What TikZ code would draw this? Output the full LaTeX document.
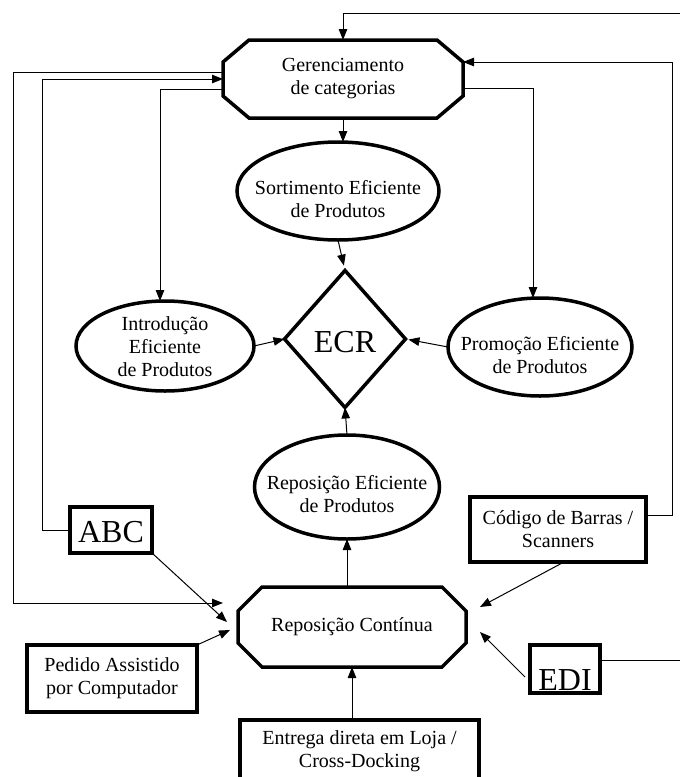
\documentclass[tikz,border=0pt]{standalone}
\usepackage{fontspec}
\setmainfont{Liberation Serif}
\usetikzlibrary{shapes.geometric,arrows.meta}
\newcommand{\drawoct}[3]{\draw[shapeline,line join=miter] ([xshift=#2]#1.north west) -- ([xshift=-#2]#1.north east) -- ([yshift=-#3]#1.north east) -- ([yshift=#3]#1.south east) -- ([xshift=-#2]#1.south east) -- ([xshift=#2]#1.south west) -- ([yshift=#3]#1.south west) -- ([yshift=-#3]#1.north west) -- cycle;}
\begin{document}
\begin{tikzpicture}[x=1pt,y=-1pt,
  shapeline/.style={line width=3.5pt},
  conn/.style={line width=1pt},
  arr/.style={conn,-{Triangle[length=11pt,width=8.5pt]}},
  ell/.style={ellipse,draw,shapeline,inner sep=0pt,outer sep=0pt},
  txt/.style={align=center,font=\fontsize{20}{23}\selectfont,inner sep=0pt},
  boxnode/.style={rectangle,draw,shapeline,inner sep=0pt,outer sep=0pt,align=center,font=\fontsize{20}{23}\selectfont},
  octnode/.style={rectangle,inner sep=0pt,outer sep=0pt,align=center,font=\fontsize{20}{23}\selectfont},
  big/.style={font=\fontsize{32}{36}\selectfont}
]
\useasboundingbox (0,0) rectangle (680,777);
\clip (0,0) rectangle (680,777);

% nodes
\node[octnode,minimum width=240pt,minimum height=78pt] (ger) at (343,79) {Gerenciamento\\de categorias};
\drawoct{ger}{26pt}{22pt}
\node[ell,minimum width=202pt,minimum height=98pt] (sort) at (338,191) {};
\node[txt] (sortt) at (338,199) {Sortimento Eficiente\\de Produtos};
\node[diamond,draw,shapeline,inner sep=0pt,outer sep=0pt,minimum width=121pt,minimum height=137pt,big,text height=26pt,text depth=0pt] (ecr) at (345,339) {ECR};
\node[ell,minimum width=178pt,minimum height=90pt] (intro) at (165,346) {};
\node[txt] (introt) at (165,347) {Introdução\\Eficiente\\de Produtos};
\node[ell,minimum width=184pt,minimum height=98pt] (promo) at (540,347) {};
\node[txt] (promot) at (540,355) {Promoção Eficiente\\de Produtos};
\node[ell,minimum width=185pt,minimum height=104pt] (repef) at (347,487) {};
\node[txt] (repeft) at (347,494) {Reposição Eficiente\\de Produtos};
\node[octnode,minimum width=228pt,minimum height=80pt] (repc) at (352,627) {Reposição Contínua};
\drawoct{repc}{24pt}{24pt}
\node[boxnode,big,minimum width=82pt,minimum height=46pt,text height=24pt,text depth=0pt] (abc) at (111,530) {ABC};
\node[boxnode,minimum width=176pt,minimum height=65pt] (cod) at (558,529.5) {Código de Barras /\\Scanners};
\node[boxnode,minimum width=170pt,minimum height=67pt] (ped) at (112,678.5) {Pedido Assistido\\por Computador};
\node[boxnode,big,minimum width=70pt,minimum height=48pt,text height=42pt,text depth=0pt] (edi) at (565,669) {EDI};
\node[boxnode,minimum width=239pt,minimum height=62pt,anchor=north] (ent) at (359.5,720) {Entrega direta em Loja /\\Cross-Docking};

% free ends and arrow tips
\coordinate (topR) at (680,13);
\coordinate (rR) at (672,62);
\coordinate (tipA) at (223,603);
\coordinate (tipB) at (227,622);
\coordinate (tipC) at (230,630);
\coordinate (tipD) at (480,607);
\coordinate (tipE) at (480,632);
\coordinate (rEdi) at (680,660);

% connectors
\draw[arr] (topR) -| (ger.north);
\draw[arr] ([yshift=14pt]cod.east) -| (rR) -- ([yshift=-22pt]ger.north east);
\draw[arr] ([yshift=7pt]ger.west) -| (13,603) -- (tipA);
\draw[arr] (abc.west) -| (42,79) -- (ger.west);
\draw[arr] ([yshift=-10pt]ger.west) -| ([xshift=-5pt]intro.north);
\draw[arr] ([yshift=-9pt]ger.east) -| ([xshift=-7pt]promo.north);
\draw[arr] (ger.south) -- (ger.south |- sort.north);
\draw[arr,shorten >=5pt] (sort.south) -- (ecr.north);
\draw[arr] (intro.east) -- (ecr.west);
\draw[arr,shorten >=3pt] (promo.west) -- (ecr.east);
\draw[arr] (repef.north) -- (ecr.south);
\draw[arr] (repef.south |- repc.north) -- (repef.south);
\draw[arr] (abc.south east) -- (tipB);
\draw[arr] (ped.north east) -- (tipC);
\draw[arr] ([xshift=6pt]cod.south) -- (tipD);
\draw[arr] ([xshift=-5pt,yshift=-8pt]edi.west) -- (tipE);
\draw[arr] (repc.south |- ent.north) -- (repc.south);
\draw[conn] ([yshift=9pt]edi.east) -- (rEdi);
\end{tikzpicture}
\end{document}
